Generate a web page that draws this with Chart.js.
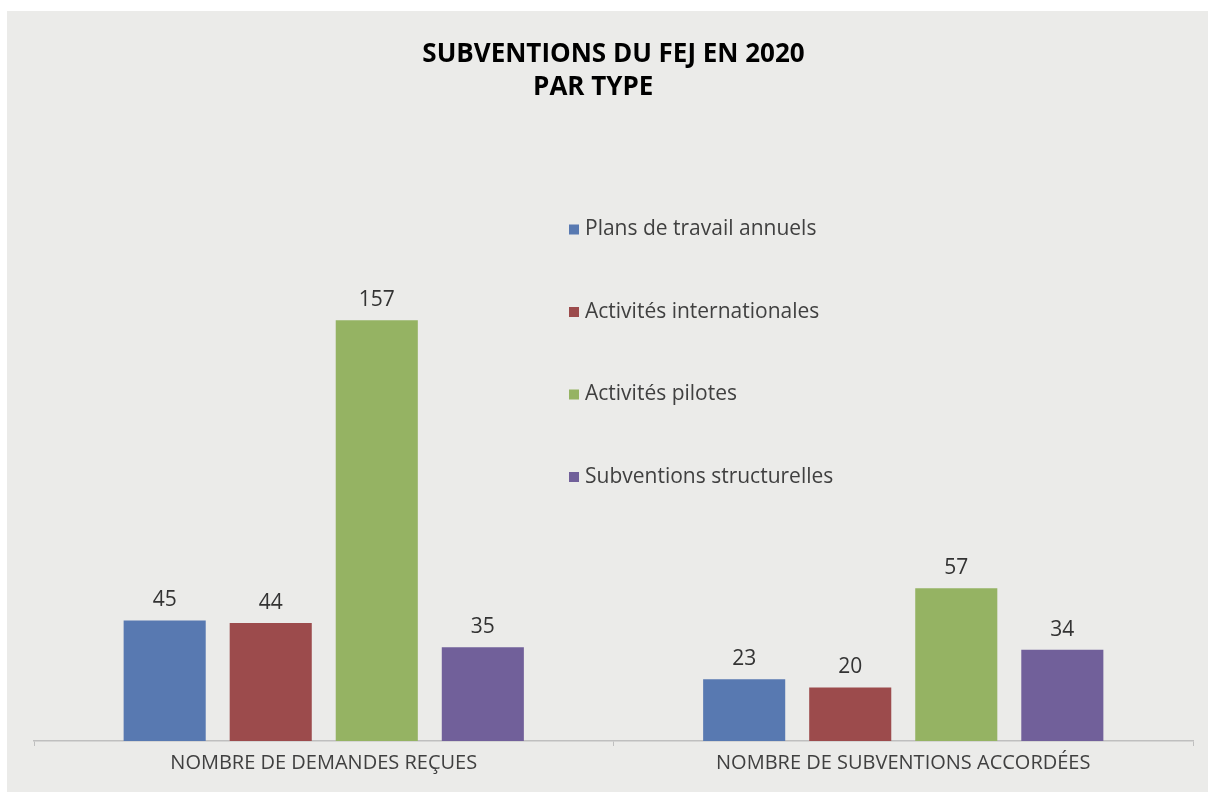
<!DOCTYPE html>
<html>
<head>
<meta charset="utf-8">
<script src="https://cdn.jsdelivr.net/npm/chart.js@4.4.1/dist/chart.umd.min.js"></script>
<style>
  html, body { margin: 0; padding: 0; background: #ffffff; }
  #wrap { position: absolute; left: 7px; top: 11px; width: 1201px; height: 781px; background: #ebebe9; }
</style>
</head>
<body>
<div id="wrap"><canvas id="chart"></canvas></div>
<script>
// categories (x axis)
const categories = ['NOMBRE DE DEMANDES REÇUES', 'NOMBRE DE SUBVENTIONS ACCORDÉES'];

// series
const seriesNames = ['Plans de travail annuels', 'Activités internationales', 'Activités pilotes', 'Subventions structurelles'];
const plansTravail = [45, 23];
const activitesInternationales = [44, 20];
const activitesPilotes = [157, 57];
const subventionsStructurelles = [35, 34];

const seriesColors = ['#5879b1', '#9c4b4c', '#95b363', '#71609a'];
const FONT = "'Open Sans', 'Noto Sans', sans-serif";

// valeurs au-dessus des barres
const valueLabels = {
    id: 'valueLabels',
    afterDatasetsDraw(chart) {
        const ctx = chart.ctx;
        ctx.save();
        ctx.font = '21px ' + FONT;
        ctx.fillStyle = '#333333';
        ctx.textAlign = 'center';
        ctx.textBaseline = 'alphabetic';
        chart.data.datasets.forEach((ds, i) => {
            chart.getDatasetMeta(i).data.forEach((bar, j) => {
                ctx.fillText(ds.data[j], bar.x, bar.y - 14);
            });
        });
        ctx.restore();
    }
};

// légende verticale dans la zone du graphique
const sideLegend = {
    id: 'sideLegend',
    afterDraw(chart) {
        const ctx = chart.ctx;
        const x = 562;
        const y0 = 218.5;
        const step = 82.5;
        ctx.save();
        ctx.font = '21px ' + FONT;
        ctx.textBaseline = 'middle';
        ctx.textAlign = 'left';
        chart.data.datasets.forEach((ds, i) => {
            const y = y0 + i * step;
            ctx.fillStyle = ds.backgroundColor;
            ctx.fillRect(x, y - 5, 10, 10);
            ctx.fillStyle = '#404040';
            ctx.fillText(ds.label, x + 16, y);
        });
        ctx.restore();
    }
};

const datasets = [plansTravail, activitesInternationales, activitesPilotes, subventionsStructurelles].map((d, i) => ({
    label: seriesNames[i],
    data: d,
    backgroundColor: seriesColors[i],
    borderWidth: 0,
    categoryPercentage: 0.732,
    barPercentage: 0.774
}));

new Chart(document.getElementById('chart'), {
    type: 'bar',
    data: { labels: categories, datasets: datasets },
    options: {
        responsive: true,
        maintainAspectRatio: false,
        animation: false,
        layout: { padding: { left: 27, right: 15, top: 0, bottom: 12 } },
        plugins: {
            legend: { display: false },
            tooltip: { enabled: false },
            title: {
                display: true,
                text: ['SUBVENTIONS DU FEJ EN 2020', 'PAR TYPE      '],
                color: '#000000',
                font: { family: FONT, size: 26, weight: 'bold', lineHeight: 1.27 },
                padding: { top: 27.5, bottom: 154 }
            }
        },
        scales: {
            x: {
                grid: { display: true, drawOnChartArea: false, drawTicks: true, tickLength: 5, color: '#bfbfbf' },
                border: { display: true, color: '#bfbfbf', width: 1.5 },
                ticks: { color: '#404040', font: { family: FONT, size: 20 }, padding: 5 }
            },
            y: {
                display: false,
                min: 0,
                max: 180
            }
        }
    },
    plugins: [valueLabels, sideLegend]
});
</script>
</body>
</html>
